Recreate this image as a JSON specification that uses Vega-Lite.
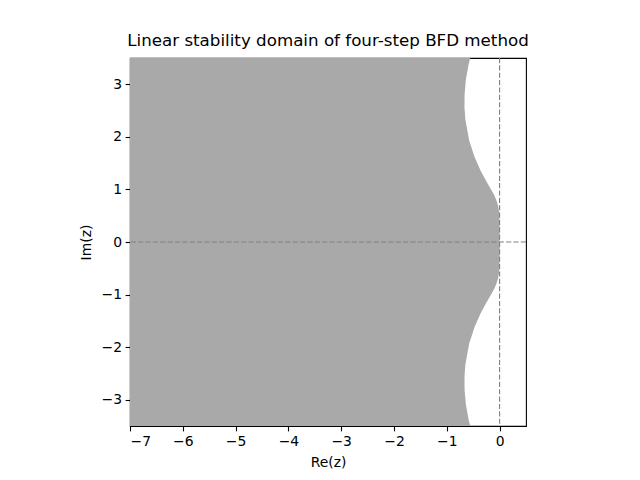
{
  "$schema": "https://vega.github.io/schema/vega-lite/v6.json",
  "width": 396,
  "height": 368,
  "autosize": {"type": "none"},
  "padding": {"left": 130, "top": 58, "right": 114, "bottom": 54},
  "background": "white",
  "title": {
    "text": "Linear stability domain of four-step BFD method",
    "font": "DejaVu Sans",
    "fontSize": 16.7,
    "fontWeight": "normal",
    "color": "black",
    "offset": 8
  },
  "config": {
    "view": {"stroke": "black", "strokeWidth": 1.1},
    "axis": {
      "grid": false,
      "domainColor": "black",
      "domainWidth": 1.1,
      "tickColor": "black",
      "tickWidth": 1.1,
      "tickSize": 4.9,
      "labelPadding": 3.5,
      "labelFont": "DejaVu Sans",
      "labelFontSize": 13.9,
      "labelColor": "black",
      "titleFont": "DejaVu Sans",
      "titleFontSize": 13.9,
      "titleFontWeight": "normal",
      "titleColor": "black"
    }
  },
  "layer": [
    {
      "data": {
        "values": [
          {"im": -3.5, "re": -0.556},
          {"im": -3.375, "re": -0.588},
          {"im": -3.087, "re": -0.639},
          {"im": -2.816, "re": -0.663},
          {"im": -2.564, "re": -0.665},
          {"im": -2.333, "re": -0.649},
          {"im": -1.933, "re": -0.576},
          {"im": -1.612, "re": -0.472},
          {"im": -1.361, "re": -0.361},
          {"im": -1.167, "re": -0.257},
          {"im": -1.015, "re": -0.170},
          {"im": -0.892, "re": -0.103},
          {"im": -0.786, "re": -0.0575},
          {"im": -0.688, "re": -0.0286},
          {"im": -0.592, "re": -0.0123},
          {"im": -0.4, "re": -0.0012},
          {"im": -0.2, "re": 0},
          {"im": 0, "re": 0},
          {"im": 0.2, "re": 0},
          {"im": 0.4, "re": -0.0012},
          {"im": 0.592, "re": -0.0123},
          {"im": 0.688, "re": -0.0286},
          {"im": 0.786, "re": -0.0575},
          {"im": 0.892, "re": -0.103},
          {"im": 1.015, "re": -0.170},
          {"im": 1.167, "re": -0.257},
          {"im": 1.361, "re": -0.361},
          {"im": 1.612, "re": -0.472},
          {"im": 1.933, "re": -0.576},
          {"im": 2.333, "re": -0.649},
          {"im": 2.564, "re": -0.665},
          {"im": 2.816, "re": -0.663},
          {"im": 3.087, "re": -0.639},
          {"im": 3.375, "re": -0.588},
          {"im": 3.5, "re": -0.556}
        ]
      },
      "mark": {"type": "area", "orient": "horizontal", "color": "#a9a9a9", "opacity": 1},
      "encoding": {
        "y": {
          "field": "im",
          "type": "quantitative",
          "scale": {"domain": [-3.5, 3.5], "nice": false, "zero": false},
          "axis": {
            "title": "Im(z)",
            "values": [-3, -2, -1, 0, 1, 2, 3],
            "format": "d",
            "labelExpr": "replace(datum.label, '-', '−')",
            "titlePadding": 8
          }
        },
        "x": {
          "field": "re",
          "type": "quantitative",
          "scale": {"domain": [-7, 0.5], "nice": false, "zero": false},
          "axis": {
            "title": "Re(z)",
            "values": [-7, -6, -5, -4, -3, -2, -1, 0],
            "format": "d",
            "labelExpr": "replace(datum.label, '-', '−')",
            "titlePadding": 7
          }
        },
        "x2": {"datum": -7}
      }
    },
    {
      "data": {"values": [{"v": 0}]},
      "mark": {"type": "rule", "color": "#808080", "strokeWidth": 1.1, "strokeDash": [5.14, 2.22]},
      "encoding": {"x": {"field": "v", "type": "quantitative"}}
    },
    {
      "data": {"values": [{"v": 0}]},
      "mark": {"type": "rule", "color": "#808080", "strokeWidth": 1.1, "strokeDash": [5.14, 2.22]},
      "encoding": {"y": {"field": "v", "type": "quantitative"}}
    }
  ]
}
